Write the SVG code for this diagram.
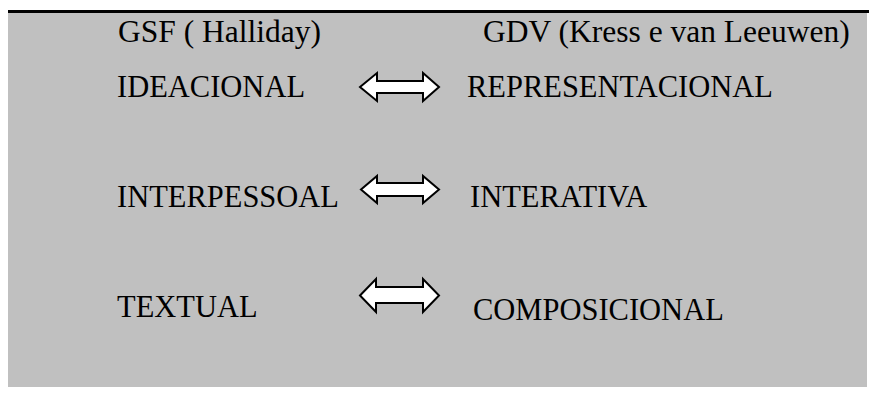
<svg xmlns="http://www.w3.org/2000/svg" width="869" height="396" viewBox="0 0 869 396">
<style>
.t{font-family:"Liberation Serif","Times New Roman",serif;font-size:30.5px;fill:#000}
.h{font-size:31.5px}
.arr{fill:#fff;stroke:#000;stroke-width:2;stroke-linejoin:miter}
</style>
<rect x="0" y="0" width="869" height="396" fill="#fff"/>
<rect x="8" y="13" width="859" height="374" fill="#c0c0c0"/>
<rect x="8" y="10" width="861" height="3" fill="#000"/>
<g id="header-gsf"><text class="t h" x="118" y="42">GSF ( Halliday)</text></g>
<g id="header-gdv"><text class="t h" x="483" y="42">GDV (Kress e van Leeuwen)</text></g>
<g id="ideacional"><text class="t" x="117" y="97">IDEACIONAL</text></g>
<g id="representacional"><text class="t" x="467" y="97">REPRESENTACIONAL</text></g>
<g id="interpessoal"><text class="t" x="117" y="207">INTERPESSOAL</text></g>
<g id="interativa"><text class="t" x="470" y="207">INTERATIVA</text></g>
<g id="textual"><text class="t" x="117" y="317">TEXTUAL</text></g>
<g id="composicional"><text class="t" x="473" y="320">COMPOSICIONAL</text></g>
<g id="connectors">
<path class="arr" d="M360,87 L377,73 L377,81 L423,81 L423,73 L439,87 L423,101 L423,93 L377,93 L377,101 Z"/>
<path class="arr" d="M361,189.5 L377,176 L377,183 L423,183 L423,176 L439,189.5 L423,203 L423,196 L377,196 L377,203 Z"/>
<path class="arr" d="M360,295.5 L376,279 L376,287 L423,287 L423,279 L439,295.5 L423,312 L423,303 L376,303 L376,312 Z"/>
</g>
</svg>
